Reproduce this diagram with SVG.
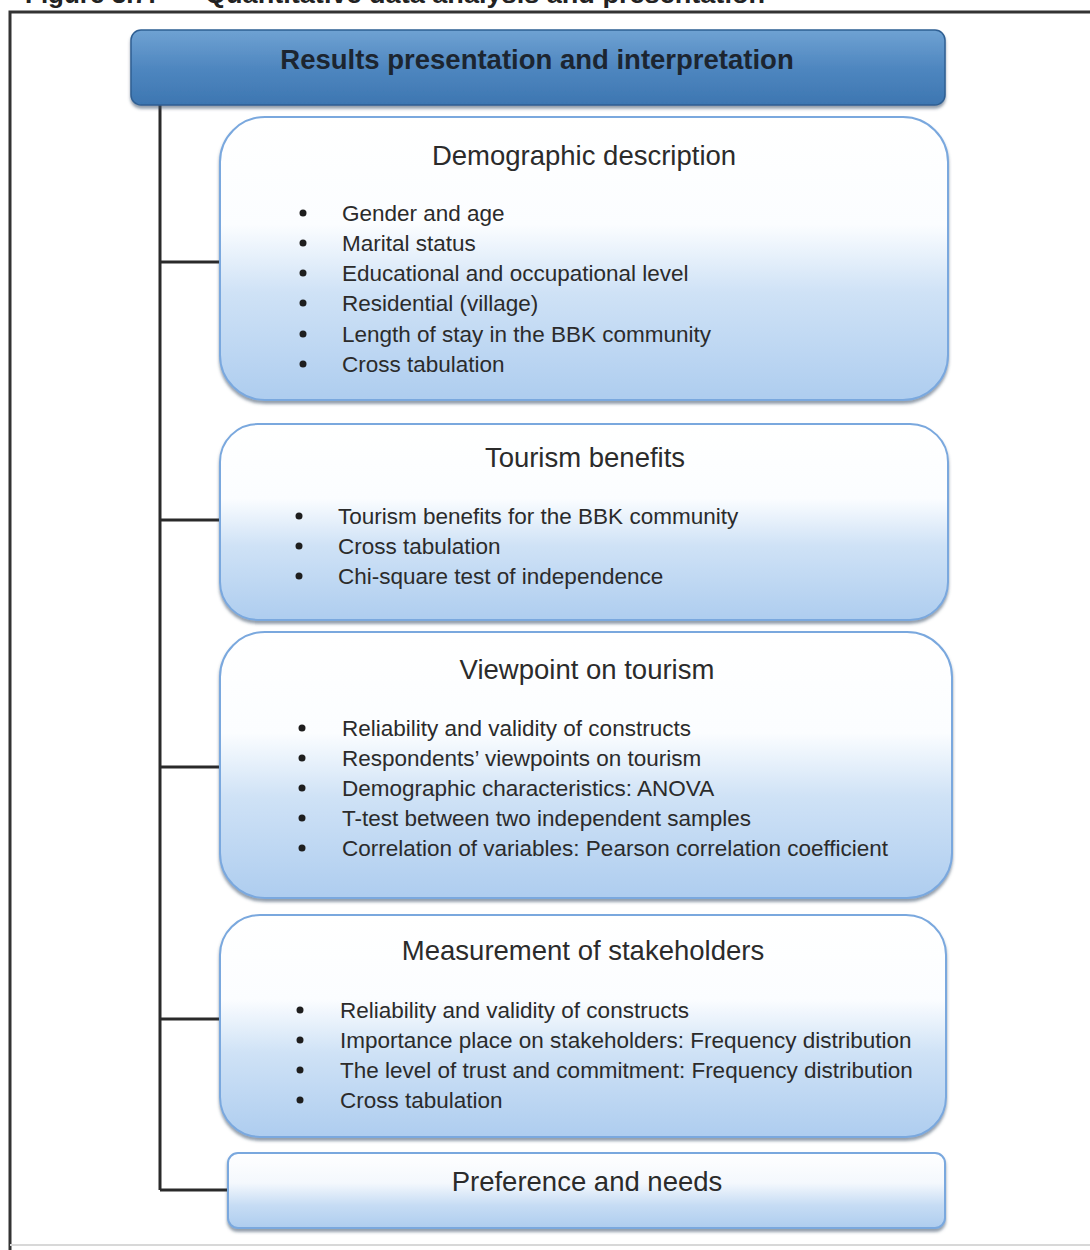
<svg xmlns="http://www.w3.org/2000/svg" width="1090" height="1250" viewBox="0 0 1090 1250">
  <defs>
    <linearGradient id="gHead" x1="0" y1="0" x2="0" y2="1">
      <stop offset="0" stop-color="#6fa2d3"/>
      <stop offset="0.5" stop-color="#4f87c0"/>
      <stop offset="1" stop-color="#3d76b1"/>
    </linearGradient>
    <linearGradient id="gBox" x1="0" y1="0" x2="0" y2="1">
      <stop offset="0" stop-color="#ffffff"/>
      <stop offset="0.38" stop-color="#fbfdff"/>
      <stop offset="0.62" stop-color="#cfe2f6"/>
      <stop offset="1" stop-color="#aecdef"/>
    </linearGradient>
    <linearGradient id="gSmall" x1="0" y1="0" x2="0" y2="1">
      <stop offset="0" stop-color="#ffffff"/>
      <stop offset="0.4" stop-color="#f4f8fd"/>
      <stop offset="0.7" stop-color="#c6dcf4"/>
      <stop offset="1" stop-color="#aecdef"/>
    </linearGradient>
    <filter id="shadow" x="-5%" y="-5%" width="110%" height="115%">
      <feDropShadow dx="0" dy="3" stdDeviation="1.5" flood-color="#3a4f66" flood-opacity="0.55"/>
    </filter>
  </defs>
  <style>
    .caption { font-family: "Liberation Sans", Arial, sans-serif; font-size: 26px; font-weight: bold; fill: #222; }
    .frame { stroke: #333; stroke-width: 3; fill: none; }
    .head { fill: url(#gHead); stroke: #2f5f93; stroke-width: 1.5; }
    .headText { font-family: "Liberation Sans", Arial, sans-serif; font-size: 27.5px; font-weight: bold; fill: #1c2530; text-anchor: middle; }
    .box { fill: url(#gBox); stroke: #7aa8de; stroke-width: 2; }
    .boxSmall { fill: url(#gSmall); stroke: #7aa8de; stroke-width: 2; }
    .title { font-family: "Liberation Sans", Arial, sans-serif; font-size: 27.5px; fill: #2b2b2b; text-anchor: middle; }
    .item { font-family: "Liberation Sans", Arial, sans-serif; font-size: 22.5px; fill: #2b2b2b; }
    .bullet { fill: #1e1e1e; }
    .link { stroke: #2a2a2a; stroke-width: 3; fill: none; }
  </style>

  <rect width="1090" height="1250" fill="#ffffff"/>

  <!-- page caption, running off the top edge -->
  <text class="caption" x="25" y="3">Figure 3.7:</text>
  <text class="caption" x="205" y="3" textLength="560" lengthAdjust="spacingAndGlyphs">Quantitative data analysis and presentation</text>

  <!-- figure frame -->
  <path class="frame" d="M10 1250 V12 H1090"/>
  <line x1="10" y1="1245" x2="1090" y2="1245" stroke="#d8d8d8" stroke-width="2"/>

  <!-- connectors -->
  <g id="connectors">
    <path class="link" d="M160 104 V1190"/>
    <path class="link" d="M160 262 H221"/>
    <path class="link" d="M160 520 H221"/>
    <path class="link" d="M160 767 H221"/>
    <path class="link" d="M160 1019 H221"/>
    <path class="link" d="M160 1190 H229"/>
  </g>

  <g id="results">
    <rect class="head" x="131" y="30" width="814" height="75" rx="10" filter="url(#shadow)"/>
    <text class="headText" x="537" y="69">Results presentation and interpretation</text>
  </g>

  <g id="demographic">
    <rect class="box" x="220" y="117" width="728" height="283" rx="45" filter="url(#shadow)"/>
    <text class="title" x="584" y="165">Demographic description</text>
    <circle class="bullet" cx="303" cy="213" r="3.5"/><text class="item" x="342" y="221">Gender and age</text>
    <circle class="bullet" cx="303" cy="243" r="3.5"/><text class="item" x="342" y="251">Marital status</text>
    <circle class="bullet" cx="303" cy="273" r="3.5"/><text class="item" x="342" y="281">Educational and occupational level</text>
    <circle class="bullet" cx="303" cy="303" r="3.5"/><text class="item" x="342" y="311">Residential (village)</text>
    <circle class="bullet" cx="303" cy="334" r="3.5"/><text class="item" x="342" y="342">Length of stay in the BBK community</text>
    <circle class="bullet" cx="303" cy="364" r="3.5"/><text class="item" x="342" y="372">Cross tabulation</text>
  </g>

  <g id="benefits">
    <rect class="box" x="220" y="424" width="728" height="196" rx="38" filter="url(#shadow)"/>
    <text class="title" x="585" y="467">Tourism benefits</text>
    <circle class="bullet" cx="299" cy="516" r="3.5"/><text class="item" x="338" y="524">Tourism benefits for the BBK community</text>
    <circle class="bullet" cx="299" cy="546" r="3.5"/><text class="item" x="338" y="554">Cross tabulation</text>
    <circle class="bullet" cx="299" cy="576" r="3.5"/><text class="item" x="338" y="584">Chi-square test of independence</text>
  </g>

  <g id="viewpoint">
    <rect class="box" x="220" y="632" width="732" height="266" rx="45" filter="url(#shadow)"/>
    <text class="title" x="587" y="679">Viewpoint on tourism</text>
    <circle class="bullet" cx="302" cy="728" r="3.5"/><text class="item" x="342" y="736">Reliability and validity of constructs</text>
    <circle class="bullet" cx="302" cy="758" r="3.5"/><text class="item" x="342" y="766">Respondents’ viewpoints on tourism</text>
    <circle class="bullet" cx="302" cy="788" r="3.5"/><text class="item" x="342" y="796">Demographic characteristics: ANOVA</text>
    <circle class="bullet" cx="302" cy="818" r="3.5"/><text class="item" x="342" y="826">T-test between two independent samples</text>
    <circle class="bullet" cx="302" cy="848" r="3.5"/><text class="item" x="342" y="856">Correlation of variables: Pearson correlation coefficient</text>
  </g>

  <g id="stakeholders">
    <rect class="box" x="220" y="915" width="726" height="222" rx="40" filter="url(#shadow)"/>
    <text class="title" x="583" y="960">Measurement of stakeholders</text>
    <circle class="bullet" cx="300" cy="1010" r="3.5"/><text class="item" x="340" y="1018">Reliability and validity of constructs</text>
    <circle class="bullet" cx="300" cy="1040" r="3.5"/><text class="item" x="340" y="1048">Importance place on stakeholders: Frequency distribution</text>
    <circle class="bullet" cx="300" cy="1070" r="3.5"/><text class="item" x="340" y="1078">The level of trust and commitment: Frequency distribution</text>
    <circle class="bullet" cx="300" cy="1100" r="3.5"/><text class="item" x="340" y="1108">Cross tabulation</text>
  </g>

  <g id="preference">
    <rect class="boxSmall" x="228" y="1153" width="717" height="75" rx="10" filter="url(#shadow)"/>
    <text class="title" x="587" y="1191">Preference and needs</text>
  </g>
</svg>
